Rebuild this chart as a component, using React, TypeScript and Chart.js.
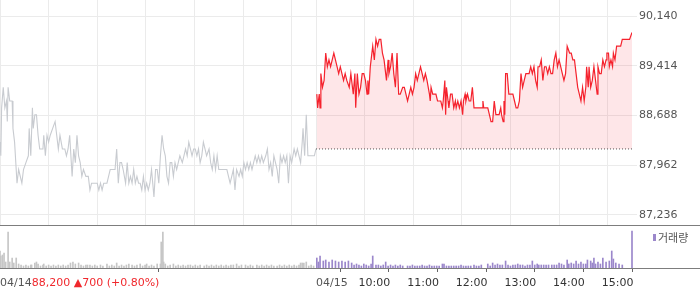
import React, { useEffect, useRef } from "react";
import { Chart, registerables } from "chart.js";

Chart.register(...registerables);

// ---- data ----
const PREV_CLOSE = 88200;
const CHANGE = 700;
const CHANGE_PCT = 0.8;
const SESSION_MIN = 390; // 09:00 - 15:30
const PRICE_TICKS = [87236, 87962, 88688, 89414, 90140];
const DAY_LABELS = ["04/14", "04/15"];
const HOUR_LABELS = ["10:00", "11:00", "12:00", "13:00", "14:00", "15:00"];
const HOUR_MINUTES = [60, 120, 180, 240, 300, 360];
const VOLUME_LABEL = "거래량";

// 04/14 minute offsets from 09:00 and prices
const prevMinutes = [0, 1, 2, 4, 6, 8, 9, 10, 12, 15, 16, 18, 21, 23, 27, 29, 32, 35, 36, 38, 40, 41, 43, 45, 47, 49, 53, 54, 56, 58, 60, 62, 65, 68, 70, 72, 74, 77, 80, 82, 84, 86, 89, 91, 93, 95, 97, 99, 101, 103, 106, 109, 111, 113, 120, 122, 124, 126, 128, 132, 134, 136, 142, 144, 146, 148, 150, 152, 155, 157, 159, 161, 163, 165, 167, 169, 171, 173, 175, 177, 179, 181, 183, 185, 187, 190, 192, 194, 196, 198, 200, 202, 204, 206, 208, 210, 212, 214, 216, 218, 220, 222, 225, 227, 229, 231, 233, 235, 237, 239, 241, 243, 245, 247, 249, 251, 253, 255, 258, 260, 262, 264, 266, 268, 270, 280, 282, 284, 286, 288, 290, 292, 295, 297, 299, 301, 303, 305, 307, 309, 311, 313, 315, 317, 319, 321, 323, 325, 328, 330, 332, 334, 336, 338, 340, 342, 344, 346, 348, 350, 352, 354, 356, 358, 360, 363, 365, 367, 369, 371, 373, 374, 376, 378, 380, 388, 390];
const prevPrices = [88300, 88100, 88800, 89100, 88800, 88900, 88600, 89100, 88900, 88900, 88500, 88300, 87700, 87900, 87700, 87900, 88000, 88100, 88500, 88100, 88800, 88500, 88700, 88700, 88400, 88200, 88200, 88400, 88100, 88400, 88300, 88400, 88500, 88600, 88400, 88200, 88400, 88200, 88200, 88100, 88200, 88400, 87800, 88200, 88000, 88400, 88100, 88000, 87800, 87900, 87800, 87800, 87600, 87700, 87700, 87600, 87700, 87600, 87700, 87700, 87800, 87900, 87900, 88200, 87700, 88000, 88000, 87900, 87700, 88000, 87700, 87800, 87700, 87900, 87700, 87800, 87700, 87700, 87600, 87800, 87600, 87700, 87600, 87700, 87900, 87500, 87900, 87900, 87700, 88100, 88400, 88200, 88100, 87800, 87700, 88000, 88000, 87800, 88000, 87900, 88000, 88100, 88000, 88100, 88200, 88100, 88300, 88200, 88100, 88200, 88200, 88100, 88200, 88000, 88100, 88300, 88200, 88100, 88200, 88000, 87900, 88100, 87900, 88100, 87900, 87900, 87800, 87700, 87800, 87900, 87600, 87900, 87800, 87900, 87800, 88000, 87900, 88000, 87900, 88000, 87900, 88000, 88100, 88000, 88100, 88000, 88100, 88000, 88100, 88200, 87900, 88000, 87800, 88100, 88000, 87900, 87700, 88100, 88000, 88100, 88000, 88100, 87700, 88100, 88000, 88200, 88100, 88200, 88100, 88000, 88300, 88500, 88100, 88700, 88100, 88100, 88200];

// 04/15 minute offsets from 09:00 and prices
const todayMinutes = [1, 2, 4, 5, 6, 8, 10, 12, 14, 16, 18, 20, 22, 24, 26, 28, 30, 32, 34, 36, 38, 41, 43, 45, 46, 48, 49, 51, 53, 55, 57, 59, 61, 63, 64, 65, 67, 68, 70, 72, 74, 76, 78, 80, 82, 84, 86, 87, 89, 90, 92, 94, 96, 98, 100, 102, 104, 107, 109, 111, 113, 115, 117, 119, 121, 123, 125, 127, 129, 131, 133, 135, 137, 140, 141, 142, 144, 148, 150, 154, 156, 157, 159, 160, 161, 163, 164, 166, 168, 170, 172, 173, 175, 177, 179, 181, 182, 184, 185, 187, 189, 191, 193, 195, 205, 206, 207, 212, 214, 216, 218, 220, 222, 226, 228, 229, 231, 232, 233, 234, 236, 238, 243, 245, 247, 249, 251, 253, 255, 257, 259, 263, 265, 267, 269, 271, 273, 274, 276, 278, 280, 282, 284, 286, 288, 290, 292, 294, 296, 298, 300, 302, 304, 306, 308, 310, 313, 315, 317, 319, 321, 323, 325, 327, 329, 331, 333, 334, 336, 337, 339, 341, 343, 345, 347, 348, 350, 352, 354, 356, 358, 359, 361, 362, 364, 366, 367, 369, 370, 371, 376, 378, 387, 390];
const todayPrices = [89000, 88800, 89000, 88800, 89300, 89100, 89200, 89600, 89400, 89500, 89400, 89500, 89600, 89500, 89400, 89300, 89400, 89300, 89200, 89300, 89200, 89100, 89300, 89100, 89000, 89300, 88800, 89300, 89000, 89100, 89300, 89300, 89200, 89000, 89200, 89000, 89400, 89500, 89700, 89500, 89800, 89700, 89800, 89800, 89600, 89500, 89300, 89200, 89500, 89300, 89400, 89600, 89300, 89100, 89600, 89000, 89000, 89100, 89100, 89000, 88900, 89000, 89100, 89000, 89100, 89300, 89200, 89300, 89400, 89300, 89200, 89300, 89200, 89000, 88900, 89100, 89000, 89000, 88900, 88900, 88800, 88900, 89200, 88700, 89100, 88900, 88800, 89000, 89000, 88800, 88900, 88800, 88900, 88800, 88900, 88700, 88900, 89000, 88900, 89000, 88900, 88900, 89100, 88800, 88800, 88900, 88800, 88800, 88700, 88600, 88600, 88900, 88700, 88700, 88800, 88700, 88600, 88900, 88700, 89300, 89300, 89000, 89000, 88900, 88800, 88800, 88900, 89300, 89100, 89200, 89300, 89300, 89400, 89300, 89400, 89200, 89100, 89400, 89400, 89500, 89200, 89400, 89400, 89300, 89400, 89300, 89300, 89500, 89600, 89400, 89500, 89400, 89300, 89200, 89300, 89700, 89600, 89600, 89500, 89500, 89300, 89100, 89000, 88900, 89100, 88900, 89100, 89400, 89100, 89400, 89100, 89200, 89400, 89200, 89000, 89400, 89300, 89300, 89500, 89400, 89500, 89600, 89600, 89400, 89500, 89400, 89600, 89500, 89600, 89700, 89700, 89800, 89800, 89900];

// volume (thousand shares), minute offsets from 09:00
const prevVolMinutes = [0, 1, 3, 5, 7, 10, 12, 15, 17, 20, 23, 26, 29, 32, 35, 38, 39, 43, 45, 47, 50, 53, 54, 57, 60, 63, 66, 69, 72, 75, 78, 81, 84, 87, 90, 93, 97, 100, 103, 106, 108, 111, 114, 117, 120, 124, 127, 132, 135, 138, 141, 144, 147, 150, 153, 156, 159, 163, 166, 169, 173, 176, 179, 181, 184, 187, 190, 194, 198, 199, 201, 202, 204, 207, 210, 214, 217, 220, 223, 226, 229, 232, 235, 238, 241, 244, 247, 252, 255, 258, 261, 264, 267, 270, 273, 276, 279, 282, 285, 288, 292, 295, 298, 303, 306, 309, 312, 317, 320, 323, 326, 329, 332, 335, 338, 342, 345, 348, 351, 354, 357, 360, 363, 366, 369, 371, 373, 375, 378, 381, 384, 387];
const prevVolumes = [17, 12, 13, 15, 6, 36, 6, 10, 5, 10, 4, 3, 2, 3, 2, 3, 3, 5, 6, 4, 2, 3, 4, 2, 3, 2, 3, 2, 3, 2, 3, 2, 3, 5, 6, 4, 5, 3, 2, 3, 3, 3, 2, 3, 2, 3, 2, 4, 2, 3, 2, 5, 2, 3, 2, 3, 4, 3, 2, 3, 4, 2, 3, 4, 2, 3, 2, 4, 4, 26, 36, 6, 4, 2, 3, 4, 2, 3, 2, 3, 2, 3, 3, 2, 3, 2, 3, 2, 3, 2, 3, 2, 3, 2, 3, 2, 3, 2, 3, 3, 4, 2, 3, 3, 2, 3, 2, 3, 2, 3, 2, 3, 2, 3, 2, 2, 3, 2, 3, 2, 3, 2, 3, 2, 3, 5, 5, 5, 6, 2, 3, 2];
const todayVolMinutes = [1, 3, 5, 9, 12, 16, 20, 24, 28, 32, 36, 40, 44, 47, 50, 53, 56, 59, 62, 65, 68, 70, 74, 77, 80, 83, 86, 89, 92, 95, 98, 101, 104, 107, 113, 116, 119, 122, 125, 128, 131, 134, 137, 140, 143, 146, 149, 152, 156, 158, 161, 164, 167, 170, 173, 176, 179, 182, 185, 188, 191, 195, 198, 201, 204, 212, 215, 218, 221, 224, 227, 230, 234, 237, 240, 243, 246, 249, 252, 255, 258, 261, 264, 267, 270, 273, 275, 278, 281, 284, 287, 291, 294, 297, 300, 303, 306, 310, 312, 315, 318, 321, 324, 327, 330, 333, 335, 339, 341, 343, 345, 348, 351, 354, 358, 362, 365, 367, 370, 374, 378, 390];
const todayVolumes = [10, 6, 12, 7, 8, 6, 8, 7, 6, 7, 6, 7, 5, 3, 4, 3, 2, 4, 3, 2, 4, 12, 3, 3, 2, 3, 6, 2, 3, 2, 3, 2, 3, 2, 2, 2, 3, 2, 2, 2, 3, 2, 2, 3, 2, 2, 2, 2, 4, 4, 2, 2, 2, 2, 2, 2, 3, 2, 2, 2, 2, 3, 2, 2, 3, 4, 2, 5, 3, 4, 3, 3, 7, 3, 2, 3, 3, 4, 3, 3, 2, 3, 3, 7, 3, 4, 3, 3, 3, 3, 3, 3, 3, 3, 5, 4, 3, 8, 4, 5, 4, 7, 4, 6, 4, 4, 8, 7, 5, 10, 4, 6, 4, 10, 6, 7, 17, 9, 5, 4, 3, 37];

// ---- layout constants ----
const W = 700;
const PRICE_H = 225;
const VOL_H = 64;
const AXIS_W = 68;
const PRICE_MIN = 87090;
const PRICE_MAX = 90374;
const FONT = "'DejaVu Sans', sans-serif";
const GRID = "#ebebeb";

const fmt = (v: number) => v.toLocaleString("en-US");

export default function App() {
  const priceRef = useRef<HTMLCanvasElement | null>(null);
  const volRef = useRef<HTMLCanvasElement | null>(null);

  useEffect(() => {
    document.body.style.margin = "0";
    const gridMinutes: number[] = [];
    for (let d = 0; d < 2; d++) {
      gridMinutes.push(d * SESSION_MIN);
      HOUR_MINUTES.forEach((m) => gridMinutes.push(d * SESSION_MIN + m));
    }

    const priceChart = new Chart(priceRef.current as HTMLCanvasElement, {
      type: "line",
      data: {
        datasets: [
          {
            label: "base",
            data: [
              { x: SESSION_MIN, y: PREV_CLOSE },
              { x: 2 * SESSION_MIN, y: PREV_CLOSE },
            ],
            borderColor: "#555",
            borderWidth: 1,
            borderDash: [1, 2],
            pointRadius: 0,
            fill: false,
            order: 0,
          },
          {
            label: DAY_LABELS[1],
            data: todayMinutes.map((m, i) => ({ x: SESSION_MIN + m, y: todayPrices[i] })),
            borderColor: "#f5222d",
            borderWidth: 1.2,
            pointRadius: 0,
            fill: { value: PREV_CLOSE },
            backgroundColor: "rgba(245, 60, 75, 0.13)",
            order: 1,
          },
          {
            label: DAY_LABELS[0],
            data: prevMinutes.map((m, i) => ({ x: m, y: prevPrices[i] })),
            borderColor: "#c8cbd0",
            borderWidth: 1.1,
            pointRadius: 0,
            fill: false,
            order: 2,
          },
        ],
      },
      options: {
        animation: false,
        responsive: false,
        maintainAspectRatio: false,
        layout: { padding: 0 },
        plugins: { legend: { display: false }, tooltip: { enabled: false } },
        scales: {
          x: {
            type: "linear",
            min: 0,
            max: 2 * SESSION_MIN,
            afterBuildTicks: (s: any) => {
              s.ticks = gridMinutes.map((v) => ({ value: v }));
            },
            ticks: { display: false },
            grid: { color: GRID, drawTicks: false },
            border: { display: false },
            afterFit: (s: any) => {
              s.height = 0;
              s.paddingLeft = 0;
              s.paddingRight = 0;
            },
          },
          y: {
            position: "right",
            min: PRICE_MIN,
            max: PRICE_MAX,
            afterBuildTicks: (s: any) => {
              s.ticks = PRICE_TICKS.map((v) => ({ value: v }));
            },
            ticks: {
              callback: (v: any) => fmt(Number(v)),
              font: { family: FONT, size: 11 },
              color: "#555",
              padding: 2,
            },
            grid: { color: GRID, tickLength: 5, tickColor: GRID },
            border: { display: false },
            afterFit: (s: any) => {
              s.width = AXIS_W;
              s.paddingTop = 0;
              s.paddingBottom = 0;
            },
          },
        },
      },
    } as any);

    const volPlugin = {
      id: "volDecor",
      afterDraw(chart: any) {
        const ctx = chart.ctx;
        const xs = chart.scales.x;
        const bottom = chart.chartArea.bottom;
        ctx.save();
        ctx.strokeStyle = "#7d7d7d";
        ctx.lineWidth = 1;
        ctx.beginPath();
        ctx.moveTo(0, 0.5);
        ctx.lineTo(W, 0.5);
        ctx.moveTo(0, bottom + 0.5);
        ctx.lineTo(W, bottom + 0.5);
        ctx.stroke();

        ctx.font = `11px ${FONT}`;
        ctx.textBaseline = "middle";
        ctx.textAlign = "left";
        const ly = 58;
        // day labels
        ctx.fillStyle = "#555";
        const x0 = xs.getPixelForValue(0);
        ctx.fillText(DAY_LABELS[0], x0, ly);
        const w0 = ctx.measureText(DAY_LABELS[0]).width;
        ctx.fillStyle = "#f0282d";
        ctx.fillText(`${fmt(PREV_CLOSE)} ▲${fmt(CHANGE)} (+${CHANGE_PCT.toFixed(2)}%)`, x0 + w0, ly);
        ctx.fillStyle = "#555";
        ctx.fillText(DAY_LABELS[1], xs.getPixelForValue(SESSION_MIN), ly);
        ctx.fillStyle = "#333";
        HOUR_MINUTES.forEach((m, i) => {
          ctx.fillText(HOUR_LABELS[i], xs.getPixelForValue(SESSION_MIN + m) - 6, ly);
        });

        // legend
        ctx.fillStyle = "#9b87cb";
        ctx.fillRect(653, 9, 3, 7);
        ctx.fillStyle = "#555";
        ctx.font = "11px 'Noto Sans CJK KR', sans-serif";
        ctx.fillText(VOLUME_LABEL, 658, 13);
        ctx.restore();
      },
    };

    const tickMinutes = [0, SESSION_MIN, ...HOUR_MINUTES.map((m) => SESSION_MIN + m)];

    const volChart = new Chart(volRef.current as HTMLCanvasElement, {
      type: "bar",
      data: {
        datasets: [
          {
            label: DAY_LABELS[0],
            data: prevVolMinutes.map((m, i) => ({ x: m, y: prevVolumes[i] })),
            backgroundColor: "#c6c6c6",
            barThickness: 1,
            grouped: false,
            clip: false,
          },
          {
            label: DAY_LABELS[1],
            data: todayVolMinutes.map((m, i) => ({ x: SESSION_MIN + m, y: todayVolumes[i] })),
            backgroundColor: "#9b87cb",
            barThickness: 1,
            grouped: false,
            clip: false,
          },
        ],
      },
      options: {
        animation: false,
        responsive: false,
        maintainAspectRatio: false,
        layout: { padding: { left: 0, right: AXIS_W, top: 0, bottom: 0 } },
        plugins: { legend: { display: false }, tooltip: { enabled: false } },
        scales: {
          x: {
            type: "linear",
            min: 0,
            max: 2 * SESSION_MIN,
            offset: false,
            afterBuildTicks: (s: any) => {
              s.ticks = tickMinutes.map((v) => ({ value: v }));
            },
            ticks: { display: false },
            grid: { drawOnChartArea: false, drawTicks: true, tickLength: 4, tickColor: "#666" },
            border: { display: false },
            afterFit: (s: any) => {
              s.height = 21;
              s.paddingLeft = 0;
              s.paddingRight = 0;
            },
          },
          y: { display: false, min: 0, max: 43 },
        },
      },
      plugins: [volPlugin],
    } as any);

    return () => {
      priceChart.destroy();
      volChart.destroy();
    };
  }, []);

  return (
    <div style={{ position: "absolute", left: 0, top: 0, width: W, height: PRICE_H + VOL_H, background: "#fff" }}>
      <canvas ref={priceRef} width={W} height={PRICE_H} style={{ display: "block", width: W, height: PRICE_H }} />
      <canvas ref={volRef} width={W} height={VOL_H} style={{ display: "block", width: W, height: VOL_H }} />
    </div>
  );
}
